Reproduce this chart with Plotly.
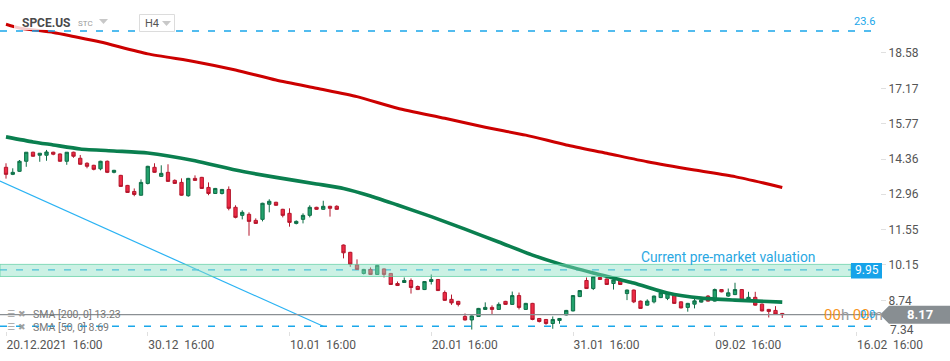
import plotly.graph_objects as go

# ---------------- data ----------------
candle_idx = list(range(116))
opens = [14.03, 13.75, 13.87, 14.27, 14.63, 14.51, 14.51, 14.63, 14.56, 14.27,
         14.63, 14.39, 14.19, 14.11, 13.97, 14.27, 13.83, 13.71, 13.31, 13.07,
         12.92, 13.39, 14.03, 13.67, 13.83, 13.51, 13.43, 12.90, 13.59, 13.63,
         13.23, 12.99, 12.99, 13.15, 12.44, 12.12, 12.16, 11.92, 11.96, 12.56,
         12.64, 12.36, 12.20, 11.80, 11.96, 12.12, 12.44, 12.36, 12.48, 12.48,
         10.94, 10.65, 10.15, 9.81, 9.97, 9.77, 9.99, 9.81, 9.41, 9.45,
         9.53, 9.29, 9.17, 9.49, 9.57, 9.05, 8.78, 8.70, 8.10, 7.96,
         8.10, 8.38, 8.46, 8.38, 8.70, 8.58, 8.93, 8.38, 8.62, 8.02,
         7.98, 7.82, 7.94, 8.16, 8.32, 8.89, 9.53, 9.21, 9.65, 9.59,
         9.41, 9.52, 9.01, 9.15, 8.71, 8.55, 8.68, 8.85, 8.82, 8.94,
         8.68, 8.46, 8.59, 8.67, 8.91, 8.71, 9.17, 8.91, 8.97, 9.17,
         8.75, 8.86, 8.59, 8.38, 8.34, 8.22]
highs = [14.19, 13.99, 14.32, 14.63, 14.65, 14.59, 14.72, 14.65, 14.58, 14.63,
         14.65, 14.52, 14.23, 14.13, 14.29, 14.30, 13.93, 13.73, 13.33, 13.19,
         13.55, 14.09, 14.19, 14.11, 14.15, 13.55, 13.59, 13.61, 13.71, 13.65,
         13.43, 13.21, 13.17, 13.27, 12.52, 12.32, 12.24, 12.00, 12.62, 12.76,
         12.66, 12.38, 12.40, 11.92, 12.20, 12.52, 12.46, 12.70, 12.50, 12.52,
         10.96, 10.67, 10.37, 9.99, 10.05, 10.15, 10.01, 9.83, 9.49, 9.65,
         9.61, 9.33, 9.51, 9.77, 9.59, 9.13, 8.97, 8.72, 8.22, 8.14,
         8.44, 8.66, 8.54, 8.66, 8.72, 9.09, 9.05, 8.64, 8.64, 8.04,
         8.00, 8.10, 8.04, 8.36, 8.95, 9.15, 9.65, 9.70, 9.67, 9.61,
         9.65, 9.55, 9.17, 9.17, 8.73, 8.78, 8.93, 9.12, 9.06, 9.01,
         8.70, 8.64, 8.88, 8.77, 8.95, 9.21, 9.19, 9.21, 9.44, 9.19,
         9.08, 9.08, 8.61, 8.40, 8.51, 8.24]
lows = [13.58, 13.72, 13.85, 14.05, 14.45, 14.25, 14.29, 14.51, 14.25, 14.13,
        14.41, 14.13, 13.99, 13.91, 13.91, 13.80, 13.79, 13.25, 13.01, 12.88,
        12.90, 13.35, 13.81, 13.65, 13.45, 13.37, 12.90, 12.86, 13.49, 13.17,
        12.92, 12.97, 12.95, 12.32, 12.00, 11.96, 11.31, 11.78, 11.88, 12.24,
        12.50, 12.04, 11.67, 11.76, 11.80, 12.04, 12.34, 12.34, 12.07, 12.34,
        10.41, 10.07, 9.95, 9.77, 9.75, 9.75, 9.65, 9.35, 9.31, 9.43,
        9.01, 9.15, 9.15, 9.37, 9.11, 8.72, 8.56, 8.50, 7.94, 7.58,
        8.08, 8.36, 8.16, 8.36, 8.56, 8.56, 8.38, 8.36, 7.95, 7.86,
        7.77, 7.61, 7.81, 8.14, 8.30, 8.87, 9.19, 9.15, 9.55, 9.35,
        9.17, 9.35, 8.75, 8.63, 8.40, 8.53, 8.62, 8.83, 8.75, 8.60,
        8.42, 8.29, 8.42, 8.65, 8.69, 8.69, 9.06, 8.88, 8.95, 8.70,
        8.73, 8.53, 8.30, 8.06, 8.17, 8.04]
closes = [13.75, 13.83, 14.27, 14.63, 14.47, 14.59, 14.64, 14.55, 14.27, 14.63,
          14.47, 14.15, 14.07, 13.95, 14.27, 13.83, 13.91, 13.27, 13.03, 12.95,
          13.43, 14.07, 13.83, 13.79, 13.47, 13.39, 12.92, 13.59, 13.51, 13.19,
          12.99, 13.19, 13.15, 12.40, 12.04, 12.24, 11.88, 11.80, 12.60, 12.68,
          12.52, 12.12, 11.84, 11.88, 12.12, 12.44, 12.36, 12.48, 12.40, 12.36,
          10.63, 10.18, 9.97, 9.97, 9.77, 10.13, 9.77, 9.37, 9.33, 9.53,
          9.25, 9.17, 9.49, 9.57, 9.13, 8.74, 8.64, 8.58, 7.96, 8.12,
          8.42, 8.46, 8.38, 8.58, 8.58, 8.93, 8.46, 8.62, 7.98, 7.90,
          7.82, 7.98, 8.02, 8.34, 8.93, 9.13, 9.21, 9.68, 9.57, 9.37,
          9.55, 9.37, 9.15, 8.68, 8.42, 8.71, 8.91, 9.04, 9.04, 8.62,
          8.44, 8.62, 8.72, 8.75, 8.71, 9.17, 9.08, 9.04, 9.17, 8.72,
          8.86, 8.55, 8.32, 8.30, 8.19, 8.17]

sma50_idx = [0, 4, 7, 11, 16, 21, 28, 34, 40, 46, 50, 54, 58, 63, 68, 73, 78, 82, 87, 93, 98, 103, 108, 115]
sma50_val = [15.24, 15.04, 14.92, 14.76, 14.68, 14.60, 14.29, 13.92, 13.63, 13.37, 13.19, 12.89,
             12.53, 12.07, 11.57, 11.06, 10.54, 10.19, 9.83, 9.43, 9.03, 8.83, 8.75, 8.67]
sma200_idx = [0, 2, 7, 10, 14, 21, 28, 34, 40, 46, 52, 58, 65, 71, 77, 83, 89, 95, 102, 108, 115]
sma200_val = [19.72, 19.57, 19.39, 19.23, 19.01, 18.54, 18.23, 17.90, 17.50, 17.17, 16.84,
              16.38, 15.98, 15.62, 15.31, 14.92, 14.59, 14.25, 13.92, 13.66, 13.23]

x_tick_idx = [0, 21, 42, 63, 84, 105, 126]
x_tick_text = ["20.12.2021\u00a0\u00a016:00", "30.12\u00a0\u00a016:00", "10.01\u00a0\u00a016:00",
               "20.01\u00a0\u00a016:00", "31.01\u00a0\u00a016:00", "09.02\u00a0\u00a016:00",
               "16.02\u00a0\u00a016:00"]
y_tick_vals = [8.74, 10.15, 11.55, 12.96, 14.36, 15.77, 17.17, 18.58]
y_tick_text = ["8.74", "10.15", "11.55", "12.96", "14.36", "15.77", "17.17", "18.58"]
y_bottom_label = "7.34"

last_price = 8.17
level_top_label = "23.6"
level_mid = 9.95
zone_low, zone_high = 9.69, 10.17
level_low = 7.71
trend_x = [-0.9, 47.0]
trend_y = [13.48, 7.71]
sma200_last = 13.23
sma50_last = 8.69

# ---------------- layout helpers (pixel -> paper) ----------------
PW, PH = 880, 336
def fx(px):
    return px / PW
def fy(py):
    return (PH - py) / PH

FONT = "Roboto"
BLUE = "#1aa7ea"

fig = go.Figure()
fig.add_trace(go.Candlestick(
    x=candle_idx, open=opens, high=highs, low=lows, close=closes,
    increasing=dict(line=dict(color="#0e6e47", width=1), fillcolor="#22a26c"),
    decreasing=dict(line=dict(color="#b4172c", width=1), fillcolor="#ee2a45"),
    whiskerwidth=0, hoverinfo="skip", showlegend=False,
))
fig.add_trace(go.Scatter(x=sma50_idx, y=sma50_val, mode="lines",
                         line=dict(color="#0a7f4f", width=3.6, shape="spline", smoothing=0.6),
                         hoverinfo="skip", showlegend=False))
fig.add_trace(go.Scatter(x=sma200_idx, y=sma200_val, mode="lines",
                         line=dict(color="#cc0000", width=3, shape="spline", smoothing=0.6),
                         hoverinfo="skip", showlegend=False))

shapes = []
shapes.append(dict(type="line", xref="x", yref="y", x0=trend_x[0], y0=trend_y[0],
                   x1=trend_x[1], y1=trend_y[1], line=dict(color="#2bb3f3", width=1.2), layer="below"))
shapes.append(dict(type="line", xref="paper", yref="paper", x0=0, x1=fx(873), y0=fy(31), y1=fy(31),
                   line=dict(color=BLUE, width=1.3, dash="7px,9px")))
shapes.append(dict(type="line", xref="paper", yref="y", x0=0, x1=fx(851), y0=level_mid, y1=level_mid,
                   line=dict(color=BLUE, width=1.3, dash="7px,9px"), layer="below"))
shapes.append(dict(type="rect", xref="paper", yref="y", x0=0, x1=fx(851), y0=zone_low, y1=zone_high,
                   fillcolor="rgba(140,225,195,0.45)", line=dict(color="rgba(90,205,160,0.7)", width=1),
                   layer="above"))
shapes.append(dict(type="line", xref="paper", yref="y", x0=0, x1=fx(873), y0=level_low, y1=level_low,
                   line=dict(color=BLUE, width=1.3, dash="7px,9px")))
shapes.append(dict(type="line", xref="paper", yref="y", x0=0, x1=1, y0=last_price, y1=last_price,
                   line=dict(color="#8a8f93", width=1.2)))
h = 9 * (20.682 - 7.323) / PH
shapes.append(dict(type="path", xref="paper", yref="y",
                   path=f"M {fx(880)},{last_price} L {fx(889)},{last_price + h} L {fx(950)},{last_price + h} "
                        f"L {fx(950)},{last_price - h} L {fx(889)},{last_price - h} Z",
                   fillcolor="#888e92", line=dict(width=0), layer="above"))
shapes.append(dict(type="rect", xref="paper", yref="paper", x0=fx(851), x1=fx(882), y0=fy(278.5), y1=fy(263),
                   fillcolor="#16a3e9", line=dict(width=0), layer="above"))
shapes.append(dict(type="rect", xref="paper", yref="paper", x0=fx(14), x1=fx(132), y0=fy(30), y1=fy(15),
                   fillcolor="rgba(255,255,255,0.8)", line=dict(width=0), layer="above"))
shapes.append(dict(type="path", xref="paper", yref="paper",
                   path=f"M {fx(99)},{fy(19)} L {fx(108)},{fy(19)} L {fx(103.5)},{fy(24)} Z",
                   fillcolor="#c8c8c8", line=dict(width=0), layer="above"))
shapes.append(dict(type="rect", xref="paper", yref="paper", x0=fx(139.5), x1=fx(174.5), y0=fy(31.5), y1=fy(14.5),
                   fillcolor="white", line=dict(color="#dcdcdc", width=1), layer="above"))
shapes.append(dict(type="path", xref="paper", yref="paper",
                   path=f"M {fx(162)},{fy(21)} L {fx(171)},{fy(21)} L {fx(166.5)},{fy(26)} Z",
                   fillcolor="#c8c8c8", line=dict(width=0), layer="above"))

ann = []
ann.append(dict(xref="paper", yref="paper", x=fx(20), y=fy(23), xanchor="left", yanchor="middle",
                text="SPCE.US", showarrow=False, font=dict(family=FONT, size=12, color="#4a4a4a", weight="bold")))
ann.append(dict(xref="paper", yref="paper", x=fx(76), y=fy(24), xanchor="left", yanchor="middle",
                text="STC", showarrow=False, font=dict(family=FONT, size=8, color="#9a9a9a")))
ann.append(dict(xref="paper", yref="paper", x=fx(143), y=fy(23.5), xanchor="left", yanchor="middle",
                text="H4", showarrow=False, font=dict(family=FONT, size=11, color="#555")))
ann.append(dict(xref="paper", yref="paper", x=fx(877), y=fy(22), xanchor="right", yanchor="middle",
                text=level_top_label, showarrow=False, font=dict(family=FONT, size=11, color=BLUE)))
ann.append(dict(xref="paper", yref="y", x=fx(866.5), y=level_mid, xanchor="center", yanchor="middle",
                text=f"{level_mid:.2f}", showarrow=False, font=dict(family=FONT, size=12, color="white")))
ann.append(dict(xref="paper", yref="paper", x=fx(639), y=fy(257), xanchor="left", yanchor="middle",
                text="Current pre-market valuation", showarrow=False,
                font=dict(family=FONT, size=13.8, color="#2aa8e2")))
ann.append(dict(xref="paper", yref="y", x=fx(920), y=last_price, xanchor="center", yanchor="middle",
                text=f"<b>{last_price:.2f}</b>", showarrow=False, font=dict(family=FONT, size=13, color="white")))
ann.append(dict(xref="paper", yref="y", x=fx(822), y=last_price, xanchor="left", yanchor="middle",
                text="00<span style='color:#9a9a9a'>h</span> 00<span style='color:#9a9a9a'>m</span>",
                showarrow=False, font=dict(family=FONT, size=15, color="#f7941d")))
ann.append(dict(xref="paper", yref="y", x=fx(877), y=last_price, xanchor="right", yanchor="middle",
                text="0.0", showarrow=False, font=dict(family=FONT, size=11, color=BLUE)))
ann.append(dict(xref="paper", yref="paper", x=fx(888), y=fy(330), xanchor="left", yanchor="middle",
                text=y_bottom_label, showarrow=False, font=dict(family=FONT, size=12, color="#555")))
ann.append(dict(xref="paper", yref="paper", x=fx(5), y=fy(314), xanchor="left", yanchor="middle",
                text="☰ ✖", showarrow=False, font=dict(family="DejaVu Sans", size=9, color="#a0a0a0")))
ann.append(dict(xref="paper", yref="paper", x=fx(5), y=fy(327), xanchor="left", yanchor="middle",
                text="☰ ✖", showarrow=False, font=dict(family="DejaVu Sans", size=9, color="#a0a0a0")))
ann.append(dict(xref="paper", yref="paper", x=fx(31), y=fy(314.5), xanchor="left", yanchor="middle",
                text=f"SMA [200, 0] {sma200_last:.2f}", showarrow=False,
                font=dict(family=FONT, size=10.5, color="#777")))
ann.append(dict(xref="paper", yref="paper", x=fx(31), y=fy(327.5), xanchor="left", yanchor="middle",
                text=f"SMA [50, 0] {sma50_last:.2f}", showarrow=False,
                font=dict(family=FONT, size=10.5, color="#777")))

fig.update_layout(
    width=950, height=361,
    margin=dict(l=0, r=70, t=0, b=25),
    paper_bgcolor="white", plot_bgcolor="white",
    showlegend=False,
    font=dict(family=FONT, color="#555"),
    shapes=shapes, annotations=ann,
    xaxis=dict(range=[-0.889, 129.48], tickmode="array", tickvals=x_tick_idx, ticktext=x_tick_text,
               ticklabelposition="outside right", ticks="inside", ticklen=4, tickcolor="#e0e0e0",
               showgrid=False, zeroline=False, showline=False, rangeslider=dict(visible=False),
               tickfont=dict(family=FONT, size=12, color="#555"), fixedrange=True),
    yaxis=dict(side="right", range=[7.323, 20.682], tickmode="array", tickvals=y_tick_vals,
               ticktext=y_tick_text, ticks="outside", ticklen=5, tickcolor="#e0e0e0",
               showgrid=False, zeroline=False, showline=False,
               tickfont=dict(family=FONT, size=12, color="#555"), fixedrange=True),
)

fig.write_html("out.html", config={"displayModeBar": False, "staticPlot": True},
               post_script="document.body.style.margin='0';document.body.style.overflow='hidden';")
